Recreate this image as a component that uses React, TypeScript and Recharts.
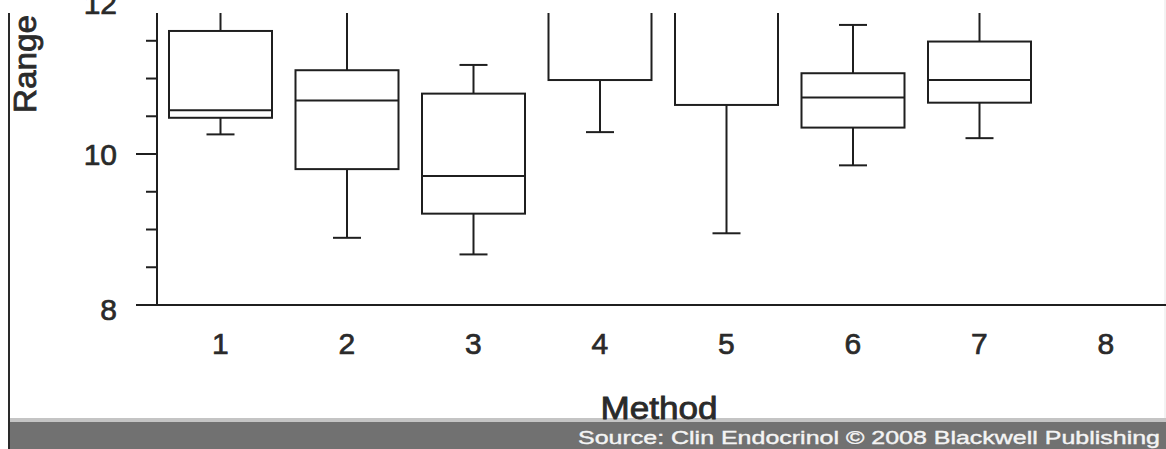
import React from 'react';
import { ComposedChart, Bar, XAxis, YAxis } from 'recharts';

const methods = ['1', '2', '3', '4', '5', '6', '7', '8'];
const whiskerLow = [10.26, 8.89, 8.67, 10.29, 8.95, 9.85, 10.21, null];
const quartile1 = [10.48, 9.8, 9.21, 10.98, 10.65, 10.35, 10.68, null];
const medians = [10.58, 10.71, 9.71, 12.2, 12.1, 10.75, 10.98, null];
const quartile3 = [11.63, 11.11, 10.8, 12.6, 12.5, 11.07, 11.49, null];
const whiskerHigh = [12.4, 12.5, 11.18, 13.0, 13.0, 11.71, 12.1, null];

const yTicks = [8, 8.5, 9, 9.5, 10, 10.5, 11, 11.5, 12];
const yLabelTicks = [8, 10, 12];
const yDomain: [number, number] = [8, 11.868];

const data = methods.map((m, i) => ({
  method: m,
  range: whiskerLow[i] == null ? null : [whiskerLow[i], whiskerHigh[i]],
  min: whiskerLow[i],
  q1: quartile1[i],
  median: medians[i],
  q3: quartile3[i],
  max: whiskerHigh[i],
}));

const INK = '#1f1f1f';
const TEXT = '#2a2a2a';
const FONT = '"Liberation Sans", Arial, Helvetica, sans-serif';

const BoxShape = (props: any) => {
  const { x, y, width, height, payload } = props;
  if (!payload || payload.min == null || payload.max == null) return null;
  const { min, q1, median, q3, max } = payload;
  const py = (v: number) => y + (height * (max - v)) / (max - min);
  const cx = x + width / 2;
  const cap = 14;
  const sw = 2;
  return (
    <g fill="none" stroke={INK} strokeWidth={sw}>
      <line x1={cx} x2={cx} y1={py(max)} y2={py(q3)} />
      <line x1={cx} x2={cx} y1={py(q1)} y2={py(min)} />
      <line x1={cx - cap} x2={cx + cap} y1={py(max)} y2={py(max)} />
      <line x1={cx - cap} x2={cx + cap} y1={py(min)} y2={py(min)} />
      <rect x={x} y={py(q3)} width={width} height={py(q1) - py(q3)} fill="#fff" />
      <line x1={x} x2={x + width} y1={py(median)} y2={py(median)} />
    </g>
  );
};

const YTick = (props: any) => {
  const { x, y, payload } = props;
  const v = payload.value;
  const major = yLabelTicks.includes(v);
  return (
    <g>
      {v <= yDomain[1] && (
        <line x1={x - (major ? 21 : 11)} x2={x} y1={y} y2={y} stroke={INK} strokeWidth={2} />
      )}
      {major && (
        <text
          x={x - 40}
          y={y + 10.5 + (v === 8 ? 4 : 0)}
          textAnchor="end"
          fontSize={30}
          fill={TEXT}
          stroke={TEXT}
          strokeWidth={0.7}
          fontFamily={FONT}
        >
          {v}
        </text>
      )}
    </g>
  );
};

const XTick = (props: any) => {
  const { x, y, payload } = props;
  return (
    <text
      x={x}
      y={y + 49}
      textAnchor="middle"
      fontSize={30}
      fill={TEXT}
      stroke={TEXT}
      strokeWidth={0.7}
      fontFamily={FONT}
    >
      {payload.value}
    </text>
  );
};

const MethodLabel = (props: any) => {
  const vb = props.viewBox || { x: 157, y: 305, width: 1012, height: 144 };
  return (
    <text
      x={vb.x + vb.width / 2 - 4}
      y={vb.y + 114}
      textAnchor="middle"
      fontSize={31}
      fill={TEXT}
      stroke={TEXT}
      strokeWidth={0.8}
      fontFamily={FONT}
      textLength={117}
      lengthAdjust="spacingAndGlyphs"
    >
      Method
    </text>
  );
};

const RangeLabel = (props: any) => {
  const vb = props.viewBox || { x: 0, y: 13, width: 157, height: 292 };
  const bx = vb.x + 36;
  const cy = vb.y + 51;
  return (
    <text
      x={bx}
      y={cy}
      transform={`rotate(-90, ${bx}, ${cy})`}
      textAnchor="middle"
      fontSize={32}
      fill={TEXT}
      stroke={TEXT}
      strokeWidth={0.8}
      fontFamily={FONT}
      textLength={98}
      lengthAdjust="spacingAndGlyphs"
    >
      Range
    </text>
  );
};

export default function App() {
  return (
    <div
      style={{
        position: 'absolute',
        left: 0,
        top: 0,
        width: 1166,
        height: 449,
        overflow: 'hidden',
        background: '#fff',
        fontFamily: FONT,
      }}
    >
      <svg width={1166} height={449} style={{ position: 'absolute', left: 0, top: 0 }}>
        <rect x={10} y={418} width={1156} height={4} fill="#c4c4c4" />
        <rect x={10} y={422} width={1156} height={27} fill="#717171" />
        <line x1={9} x2={9} y1={13} y2={449} stroke="#2a2a2a" strokeWidth={2} />
        <line x1={1165} x2={1165} y1={0} y2={418} stroke="#e6e6e6" strokeWidth={1} />
        <text
          x={1160}
          y={444}
          textAnchor="end"
          fontSize={19}
          fill="#f4f4f4"
          stroke="#f4f4f4"
          strokeWidth={0.4}
          fontFamily={FONT}
          textLength={582}
          lengthAdjust="spacingAndGlyphs"
        >
          Source: Clin Endocrinol © 2008 Blackwell Publishing
        </text>
      </svg>
      <div style={{ position: 'absolute', left: 0, top: 0 }}>
        <ComposedChart
          width={1169}
          height={449}
          data={data}
          margin={{ top: 13, right: 0, bottom: 0, left: 0 }}
          barCategoryGap={0}
        >
          <XAxis
            dataKey="method"
            height={144}
            tickSize={0}
            tickMargin={0}
            tickLine={false}
            axisLine={{ stroke: INK, strokeWidth: 2 }}
            interval={0}
            tick={<XTick />}
            label={<MethodLabel />}
          />
          <YAxis
            width={157}
            domain={yDomain}
            allowDataOverflow
            ticks={yTicks}
            interval={0}
            tickSize={0}
            tickMargin={0}
            tickLine={false}
            axisLine={{ stroke: INK, strokeWidth: 2 }}
            tick={<YTick />}
            label={<RangeLabel />}
          />
          <Bar dataKey="range" barSize={103} shape={<BoxShape />} isAnimationActive={false} />
        </ComposedChart>
      </div>
    </div>
  );
}
